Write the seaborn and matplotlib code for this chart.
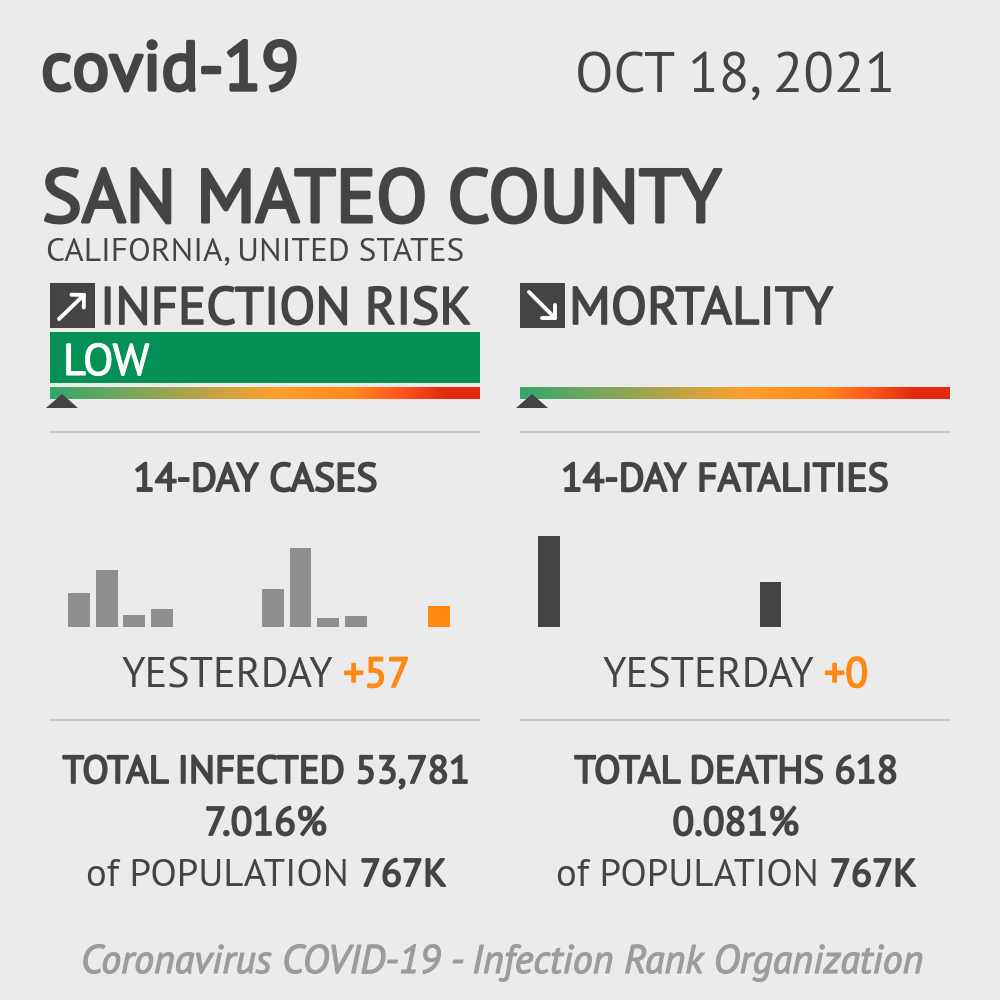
import matplotlib
matplotlib.use("Agg")
import matplotlib.pyplot as plt
import matplotlib.patheffects as pe
from matplotlib.colors import LinearSegmentedColormap
from matplotlib.patches import Polygon, Rectangle
import numpy as np
import pandas as pd
import seaborn as sns

# values
days = list(range(14))
cases = [92, 154, 33, 49, 0, 0, 0, 104, 214, 24, 30, 0, 0, 57]
fatalities = [2, 0, 0, 0, 0, 0, 0, 0, 1, 0, 0, 0, 0, 0]
risk_pos = 0.028
mortality_pos = 0.028

BG = "#ebebeb"
DARK = "#444444"
ORANGE = "#ff8812"
GREY_BAR = "#8f8f8f"
RULE = "#c9c9c9"
gauge_colors = ["#35a76c", "#a3a54f", "#ffa02e", "#ff8a1c", "#ff5a1e", "#e32a0e", "#e32a0e"]
gauge_stops = [0.0, 0.3, 0.52, 0.7, 0.81, 0.92, 1.0]

sns.set_theme(style="white")
plt.rcParams["font.family"] = ["PT Sans", "Roboto", "DejaVu Sans"]

fig = plt.figure(figsize=(10, 10), dpi=100, facecolor=BG)


def px_axes(x0, y0, x1, y1):
    # axes from pixel box, y measured from the top of the image
    ax = fig.add_axes([x0 / 1000, 1 - y1 / 1000, (x1 - x0) / 1000, (y1 - y0) / 1000])
    ax.set_axis_off()
    return ax


page = px_axes(0, 0, 1000, 1000)
page.set_xlim(0, 1000)
page.set_ylim(1000, 0)


def label(x, y, s, size, stroke=0.0, color=DARK, ha="left", style="normal"):
    # the reference thickens the regular face with an outline, not a bold face
    t = page.text(x, y, s, fontsize=size, color=color, ha=ha, va="baseline", fontstyle=style)
    if stroke:
        t.set_path_effects([pe.withStroke(linewidth=stroke, foreground=color)])


label(41, 90, "covid-19", 49.9, stroke=2.4)
label(575, 92, "OCT 18, 2021", 40.5)
label(42, 222, "SAN MATEO COUNTY", 54, stroke=2.2)
label(46, 260, "CALIFORNIA, UNITED STATES", 24)

# panel heads
label(100, 324, "INFECTION RISK", 37.9, stroke=1.2)
label(569, 324, "MORTALITY", 38.1, stroke=1.2)
for x0 in (50, 520):
    page.add_patch(Rectangle((x0, 283), 45, 45, color=DARK, lw=0))
arrow_style = dict(arrowstyle="->,head_length=0.32,head_width=0.32", color="white", lw=2.8,
                   mutation_scale=20, shrinkA=0, shrinkB=0)
page.annotate("", xy=(86, 293), xytext=(59, 319), arrowprops=arrow_style)
page.annotate("", xy=(557, 320), xytext=(529, 292), arrowprops=arrow_style)

page.add_patch(Rectangle((50, 332), 430, 51, color="#059056", lw=0))
label(63, 375, "LOW", 32, stroke=0.8, color="white")

# gauges
gauge_cmap = LinearSegmentedColormap.from_list("gauge", list(zip(gauge_stops, gauge_colors)))
for x0, pos in ((50, risk_pos), (520, mortality_pos)):
    g = px_axes(x0, 387, x0 + 430, 399)
    g.imshow(np.linspace(0, 1, 430).reshape(1, -1), cmap=gauge_cmap, aspect="auto", extent=(0, 1, 0, 1))
    tip = x0 + pos * 430
    page.add_patch(Polygon([(tip - 16, 408), (tip + 16, 408), (tip, 394)], color=DARK, lw=0, zorder=5))
page.set_zorder(3)
page.patch.set_visible(False)

# rules
for y in (432, 720):
    page.plot([50, 480], [y, y], color=RULE, lw=1.45, solid_capstyle="butt")
    page.plot([520, 950], [y, y], color=RULE, lw=1.45, solid_capstyle="butt")

label(255.5, 491, "14-DAY CASES", 28.6, stroke=1.4, ha="center")
label(725, 491, "14-DAY FATALITIES", 28.6, stroke=1.4, ha="center")

# bars
df_cases = pd.DataFrame({"day": days, "value": cases})
df_fatal = pd.DataFrame({"day": days, "value": fatalities})

ax_c = px_axes(65.15, 527, 452.85, 627)
bar_colors = [GREY_BAR] * 13 + [ORANGE]
sns.barplot(data=df_cases, x="day", y="value", hue="day", palette=bar_colors, legend=False,
            width=0.79, saturation=1, linewidth=0, ax=ax_c)
ax_c.set_xlim(-0.5, 13.5)
ax_c.set_ylim(0, 271)
ax_c.set_axis_off()

ax_f = px_axes(535.15, 527, 922.85, 627)
sns.barplot(data=df_fatal, x="day", y="value", color=DARK, width=0.79, saturation=1, linewidth=0, ax=ax_f)
ax_f.set_xlim(-0.5, 13.5)
ax_f.set_ylim(0, 2.2)
ax_f.set_axis_off()

# yesterday lines
label(122, 687, "YESTERDAY", 30.3)
label(343, 687, "+57", 30.3, stroke=1.2, color=ORANGE)
label(603, 687, "YESTERDAY", 30.3)
label(824, 687, "+0", 30.3, stroke=1.2, color=ORANGE)

# totals
label(266, 783, "TOTAL INFECTED 53,781", 28, stroke=1.3, ha="center")
label(266, 835, "7.016%", 28.8, stroke=1.3, ha="center")
label(86, 886, "of POPULATION", 27.8)
label(360, 886, "767K", 27.8, stroke=1.3)
label(736, 783, "TOTAL DEATHS 618", 28, stroke=1.3, ha="center")
label(736, 835, "0.081%", 28.8, stroke=1.3, ha="center")
label(556, 886, "of POPULATION", 27.8)
label(830, 886, "767K", 27.8, stroke=1.3)

label(81, 973, "Coronavirus COVID-19 - Infection Rank Organization", 28.7, stroke=0.9, color="#9c9c9c", style="italic")

fig.savefig("out.png", dpi=100, facecolor=BG)
